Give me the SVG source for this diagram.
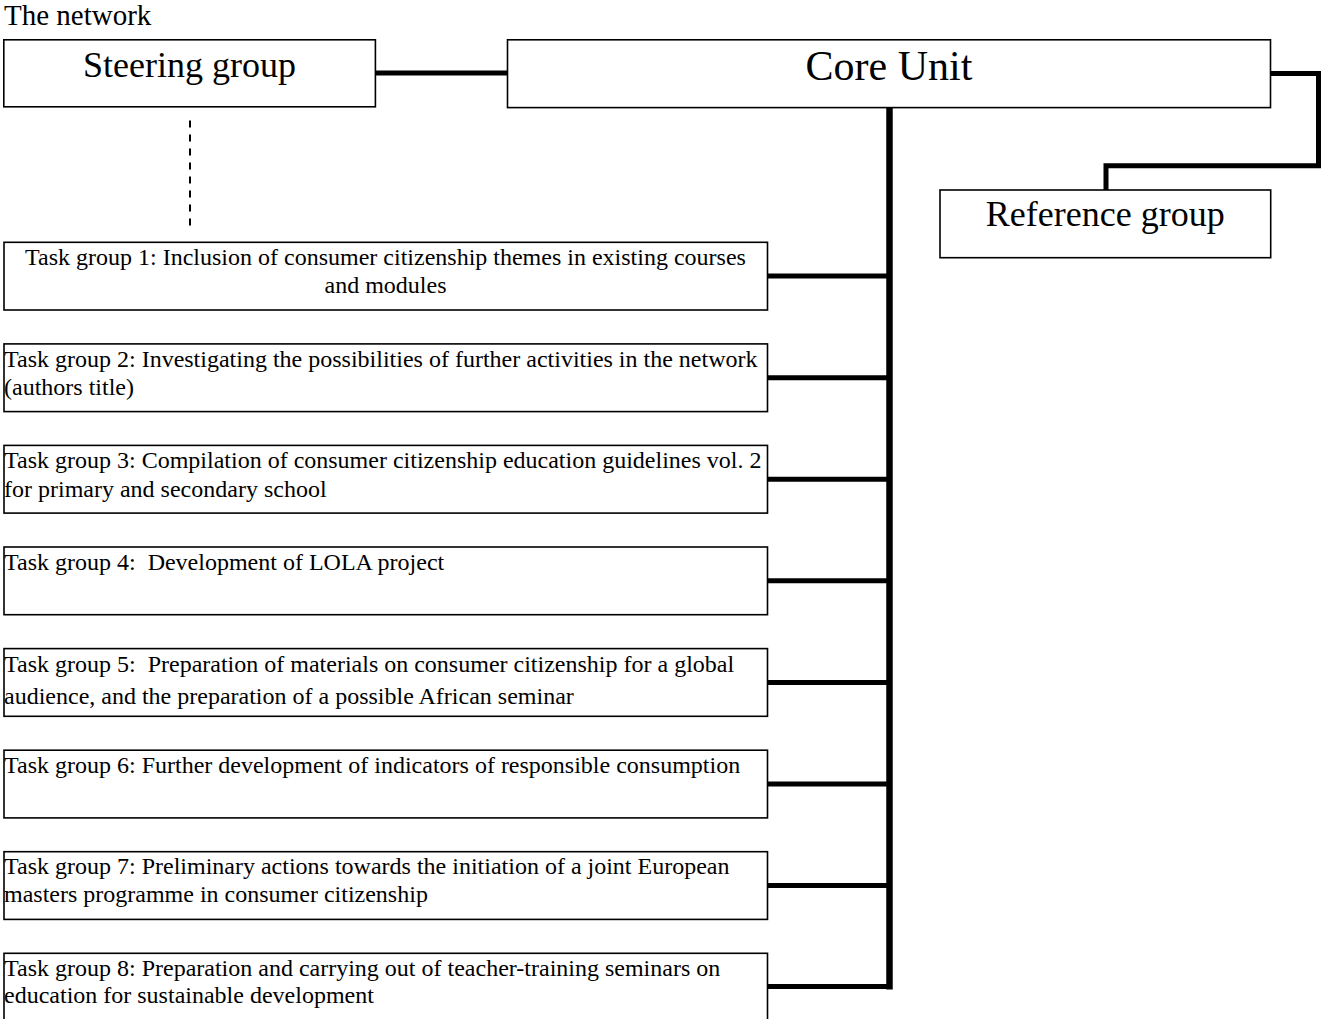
<svg xmlns="http://www.w3.org/2000/svg" width="1322" height="1019" viewBox="0 0 1322 1019">
<style>
text{font-family:"Liberation Serif","Times New Roman",serif;fill:#000}
.box{fill:#fff;stroke:#000;stroke-width:1.6}
.task{font-size:24px}
.big{font-size:36px;text-anchor:middle}
.core{font-size:42px;text-anchor:middle}
.ctr{text-anchor:middle}
.conn{fill:none;stroke:#000;stroke-width:5;stroke-linecap:butt;stroke-linejoin:miter}
.bus{fill:none;stroke:#000;stroke-width:6.5}
.dash{fill:none;stroke:#000;stroke-width:2;stroke-dasharray:7 7}
</style>
<rect width="1322" height="1019" fill="#fff"/>
<text x="4" y="25" style="font-size:29px">The network</text>

<g id="connectors">
  <line class="conn" x1="375" y1="73" x2="508" y2="73"/>
  <polyline class="conn" points="1270,73.5 1318.5,73.5 1318.5,165.8 1106,165.8 1106,190"/>
  <line class="bus" x1="889.5" y1="107" x2="889.5" y2="989.5"/>
  <line class="dash" x1="190" y1="120.5" x2="190" y2="227"/>
  <line class="conn" x1="767" y1="276.1" x2="889" y2="276.1"/>
  <line class="conn" x1="767" y1="377.7" x2="889" y2="377.7"/>
  <line class="conn" x1="767" y1="479.2" x2="889" y2="479.2"/>
  <line class="conn" x1="767" y1="580.8" x2="889" y2="580.8"/>
  <line class="conn" x1="767" y1="682.4" x2="889" y2="682.4"/>
  <line class="conn" x1="767" y1="784" x2="889" y2="784"/>
  <line class="conn" x1="767" y1="885.5" x2="889" y2="885.5"/>
  <line class="conn" x1="767" y1="986.5" x2="889" y2="986.5"/>
</g>

<g id="steering-group">
  <rect class="box" x="3.8" y="39.8" width="371.6" height="67"/>
  <text class="big" x="189.5" y="77">Steering group</text>
</g>

<g id="core-unit">
  <rect class="box" x="507.5" y="39.8" width="763" height="67.8"/>
  <text class="core" x="889" y="79.5">Core Unit</text>
</g>

<g id="reference-group">
  <rect class="box" x="940" y="190" width="330.7" height="67.7"/>
  <text class="big" x="1105.3" y="225.5">Reference group</text>
</g>

<g id="task-group-1">
  <rect class="box" x="4" y="242.3" width="763.5" height="67.7"/>
  <text class="task ctr" x="385.5" y="265.3">Task group 1: Inclusion of consumer citizenship themes in existing courses</text>
  <text class="task ctr" x="385.5" y="293.3">and modules</text>
</g>

<g id="task-group-2">
  <rect class="box" x="4" y="343.9" width="763.5" height="67.7"/>
  <text class="task" x="4" y="366.8">Task group 2: Investigating the possibilities of further activities in the network</text>
  <text class="task" x="4" y="395">(authors title)</text>
</g>

<g id="task-group-3">
  <rect class="box" x="4" y="445.4" width="763.5" height="67.7"/>
  <text class="task" x="4" y="468.3">Task group 3: Compilation of consumer citizenship education guidelines vol. 2</text>
  <text class="task" x="4" y="496.5">for primary and secondary school</text>
</g>

<g id="task-group-4">
  <rect class="box" x="4" y="547" width="763.5" height="67.7"/>
  <text class="task" x="4" y="570" xml:space="preserve">Task group 4:  Development of LOLA project</text>
</g>

<g id="task-group-5">
  <rect class="box" x="4" y="648.6" width="763.5" height="67.7"/>
  <text class="task" x="4" y="671.7" xml:space="preserve">Task group 5:  Preparation of materials on consumer citizenship for a global</text>
  <text class="task" x="4" y="704">audience, and the preparation of a possible African seminar</text>
</g>

<g id="task-group-6">
  <rect class="box" x="4" y="750.2" width="763.5" height="67.7"/>
  <text class="task" x="4" y="773.2">Task group 6: Further development of indicators of responsible consumption</text>
</g>

<g id="task-group-7">
  <rect class="box" x="4" y="851.7" width="763.5" height="67.7"/>
  <text class="task" x="4" y="874.4">Task group 7: Preliminary actions towards the initiation of a joint European</text>
  <text class="task" x="4" y="901.8">masters programme in consumer citizenship</text>
</g>

<g id="task-group-8">
  <rect class="box" x="4" y="953.3" width="763.5" height="67.7"/>
  <text class="task" x="4" y="976">Task group 8: Preparation and carrying out of teacher-training seminars on</text>
  <text class="task" x="4" y="1003.3">education for sustainable development</text>
</g>
</svg>
